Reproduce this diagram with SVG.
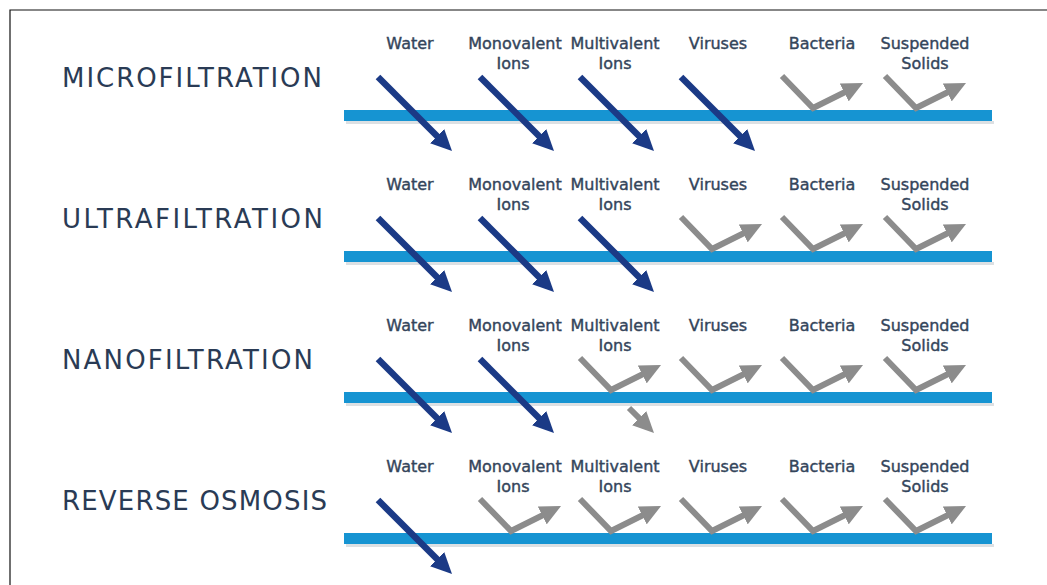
<svg xmlns="http://www.w3.org/2000/svg" width="1047" height="585" viewBox="0 0 1047 585">
  <style>
    .title { font-family: "DejaVu Sans", "Liberation Sans", sans-serif; font-size: 26px; fill: #2a3b55; }
    .lbl { font-family: "DejaVu Sans", "Liberation Sans", sans-serif; font-size: 16px; fill: #34455b; stroke: #34455b; stroke-width: 0.4; text-anchor: middle; }
    .bar { fill: #1694d2; }
    .shadow { fill: #9aa6b0; opacity: 0.35; }
    .pass { fill: none; stroke: #1b3a86; stroke-width: 6.5; }
    .rej { fill: none; stroke: #8c8c8c; stroke-width: 6; stroke-linejoin: miter; }
    .passg { fill: none; stroke: #8c8c8c; stroke-width: 6; }
  </style>
  <defs>
    <marker id="ahD" markerUnits="userSpaceOnUse" markerWidth="21" markerHeight="20" viewBox="0 0 21 20" refX="5" refY="10" orient="auto">
      <path d="M0,0 L21,10 L0,20 z" fill="#1b3a86"/>
    </marker>
    <marker id="ahG" markerUnits="userSpaceOnUse" markerWidth="21" markerHeight="20" viewBox="0 0 21 20" refX="5" refY="10" orient="auto">
      <path d="M0,0 L21,10 L0,20 z" fill="#8c8c8c"/>
    </marker>
    <g id="labels">
      <text class="lbl" x="410" y="49">Water</text>
      <text class="lbl" x="515" y="49">Monovalent</text>
      <text class="lbl" x="513" y="69">Ions</text>
      <text class="lbl" x="615" y="49">Multivalent</text>
      <text class="lbl" x="615" y="69">Ions</text>
      <text class="lbl" x="718" y="49">Viruses</text>
      <text class="lbl" x="822" y="49">Bacteria</text>
      <text class="lbl" x="925" y="49">Suspended</text>
      <text class="lbl" x="925" y="69">Solids</text>
    </g>
    <g id="membrane">
      <rect class="shadow" x="346" y="121" width="648" height="3"/>
      <rect class="bar" x="344" y="110" width="648" height="11"/>
    </g>
    <path id="passArrow" class="pass" d="M0,77 L62.7,139.7" marker-end="url(#ahD)"/>
    <path id="rejArrow" class="rej" d="M0,76 L31,108 L66.7,90.2" marker-end="url(#ahG)"/>
  </defs>

  <rect x="0" y="0" width="1047" height="585" fill="#ffffff"/>
  <path d="M10,585 V10 H1047" fill="none" stroke="#111111" stroke-width="1.2"/>

  <g id="row-microfiltration">
    <text class="title" x="62" y="87" textLength="260">MICROFILTRATION</text>
    <use href="#labels"/>
    <use href="#membrane"/>
  </g>
  <g id="row-ultrafiltration" transform="translate(0,141)">
    <text class="title" x="62" y="87" textLength="261">ULTRAFILTRATION</text>
    <use href="#labels"/>
    <use href="#membrane"/>
  </g>
  <g id="row-nanofiltration" transform="translate(0,282)">
    <text class="title" x="62" y="87" textLength="251">NANOFILTRATION</text>
    <use href="#labels"/>
    <use href="#membrane"/>
  </g>
  <g id="row-reverse-osmosis" transform="translate(0,423)">
    <text class="title" x="62" y="87" textLength="265">REVERSE OSMOSIS</text>
    <use href="#labels"/>
    <use href="#membrane"/>
  </g>

  <g id="connectors">
    <!-- Microfiltration -->
    <use href="#passArrow" x="378" y="0"/>
    <use href="#passArrow" x="480" y="0"/>
    <use href="#passArrow" x="580" y="0"/>
    <use href="#passArrow" x="681" y="0"/>
    <use href="#rejArrow" x="782" y="0"/>
    <use href="#rejArrow" x="885" y="0"/>
    <!-- Ultrafiltration -->
    <use href="#passArrow" x="378" y="141"/>
    <use href="#passArrow" x="480" y="141"/>
    <use href="#passArrow" x="580" y="141"/>
    <use href="#rejArrow" x="681" y="141"/>
    <use href="#rejArrow" x="782" y="141"/>
    <use href="#rejArrow" x="885" y="141"/>
    <!-- Nanofiltration -->
    <use href="#passArrow" x="378" y="282"/>
    <use href="#passArrow" x="480" y="282"/>
    <use href="#rejArrow" x="580" y="282"/>
    <path class="passg" d="M629,408 L642.7,421.7" marker-end="url(#ahG)"/>
    <use href="#rejArrow" x="681" y="282"/>
    <use href="#rejArrow" x="782" y="282"/>
    <use href="#rejArrow" x="885" y="282"/>
    <!-- Reverse osmosis -->
    <use href="#passArrow" x="378" y="423"/>
    <use href="#rejArrow" x="480" y="423"/>
    <use href="#rejArrow" x="580" y="423"/>
    <use href="#rejArrow" x="681" y="423"/>
    <use href="#rejArrow" x="782" y="423"/>
    <use href="#rejArrow" x="885" y="423"/>
  </g>
</svg>
